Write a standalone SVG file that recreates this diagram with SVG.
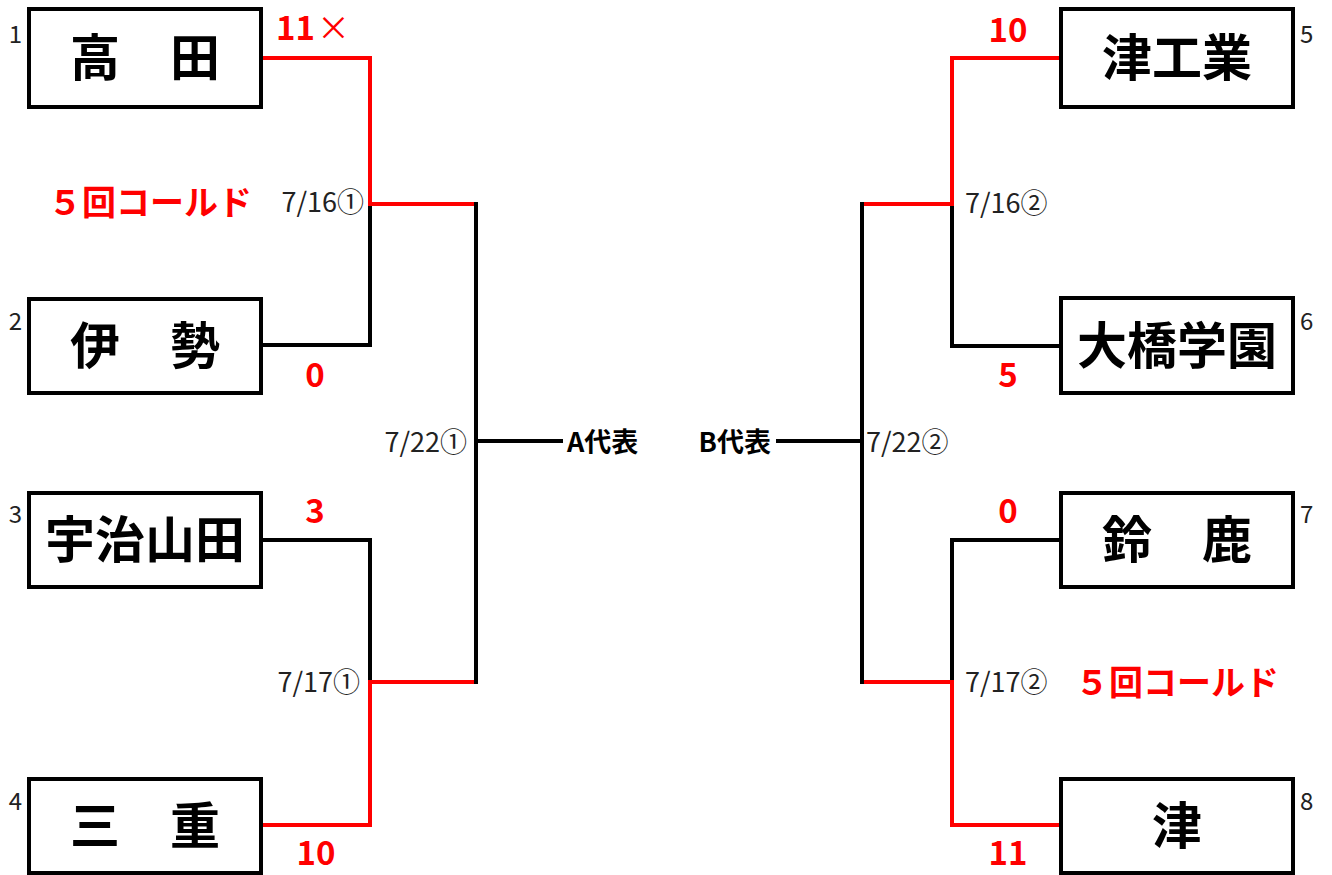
<svg xmlns="http://www.w3.org/2000/svg" width="1332" height="875" viewBox="0 0 1332 875">
<style>
.box{fill:#fff;stroke:#000;stroke-width:4}
.name{font-family:"Noto Sans CJK JP","Noto Sans CJK SC",sans-serif;font-weight:700;font-size:50px;fill:#000;text-anchor:middle;dominant-baseline:central}
.seed{font-family:"Noto Sans CJK JP",sans-serif;font-size:24px;fill:#222}
.date{font-family:"Noto Sans CJK JP",sans-serif;font-size:27px;fill:#222;dominant-baseline:central}
.score{font-family:"Noto Sans CJK JP",sans-serif;font-weight:700;font-size:33px;fill:#f00;text-anchor:middle}
.note{font-family:"Noto Sans CJK JP",sans-serif;font-weight:700;font-size:34px;fill:#f00;dominant-baseline:central}
.rep{font-family:"Noto Sans CJK JP",sans-serif;font-weight:700;font-size:27px;fill:#000;dominant-baseline:central}
.bk{fill:none;stroke:#000;stroke-width:4}
.rd{fill:none;stroke:#f00;stroke-width:4}
</style>
<g id="connectors">
<path class="bk" d="M263,345 H370 V204"/>
<path class="bk" d="M263,540 H370 V682"/>
<path class="rd" d="M263,58 H370 V204 H476"/>
<path class="rd" d="M263,825 H370 V682 H476"/>
<path class="bk" d="M476,202 V684"/>
<path class="bk" d="M476,441 H563"/>
<path class="bk" d="M1061,346 H952 V204"/>
<path class="bk" d="M1061,540 H952 V682"/>
<path class="rd" d="M1061,58 H952 V204 H862"/>
<path class="rd" d="M1061,825 H952 V682 H862"/>
<path class="bk" d="M862,202 V684"/>
<path class="bk" d="M776,441 H862"/>
</g>
<g id="team1"><rect class="box" x="29" y="9" width="232" height="98"/><text class="name" x="145" y="54">高　田</text><text class="seed" x="22" y="43" text-anchor="end">1</text></g>
<g id="team2"><rect class="box" x="29" y="299" width="232" height="94"/><text class="name" x="145" y="342">伊　勢</text><text class="seed" x="22" y="330" text-anchor="end">2</text></g>
<g id="team3"><rect class="box" x="29" y="493" width="232" height="94"/><text class="name" x="145" y="536">宇治山田</text><text class="seed" x="22" y="523" text-anchor="end">3</text></g>
<g id="team4"><rect class="box" x="29" y="779" width="232" height="94"/><text class="name" x="145" y="822">三　重</text><text class="seed" x="22" y="810" text-anchor="end">4</text></g>
<g id="team5"><rect class="box" x="1061" y="9" width="232" height="98"/><text class="name" x="1177" y="54">津工業</text><text class="seed" x="1300" y="43">5</text></g>
<g id="team6"><rect class="box" x="1061" y="298" width="232" height="95"/><text class="name" x="1177" y="342">大橋学園</text><text class="seed" x="1300" y="330">6</text></g>
<g id="team7"><rect class="box" x="1061" y="493" width="232" height="94"/><text class="name" x="1177" y="536">鈴　鹿</text><text class="seed" x="1300" y="523">7</text></g>
<g id="team8"><rect class="box" x="1061" y="779" width="232" height="94"/><text class="name" x="1177" y="822">津</text><text class="seed" x="1300" y="810">8</text></g>
<g id="labels">
<text class="score" x="313" y="40">11<tspan dx="2" font-weight="400">×</tspan></text>
<text class="score" x="315" y="387">0</text>
<text class="score" x="315" y="523">3</text>
<text class="score" x="316" y="865">10</text>
<text class="score" x="1008" y="42">10</text>
<text class="score" x="1008" y="387">5</text>
<text class="score" x="1008" y="523">0</text>
<text class="score" x="1008" y="865">11</text>
<text class="note" x="48" y="200">５回コールド</text>
<text class="note" x="1075" y="680">５回コールド</text>
<text class="date" x="364" y="200" text-anchor="end">7/16①</text>
<text class="date" x="467" y="440" text-anchor="end">7/22①</text>
<text class="date" x="360" y="680" text-anchor="end">7/17①</text>
<text class="date" x="965" y="201">7/16②</text>
<text class="date" x="866" y="440">7/22②</text>
<text class="date" x="965" y="680">7/17②</text>
<text class="rep" x="567" y="440">A代表</text>
<text class="rep" x="771" y="440" text-anchor="end">B代表</text>
</g>
</svg>
